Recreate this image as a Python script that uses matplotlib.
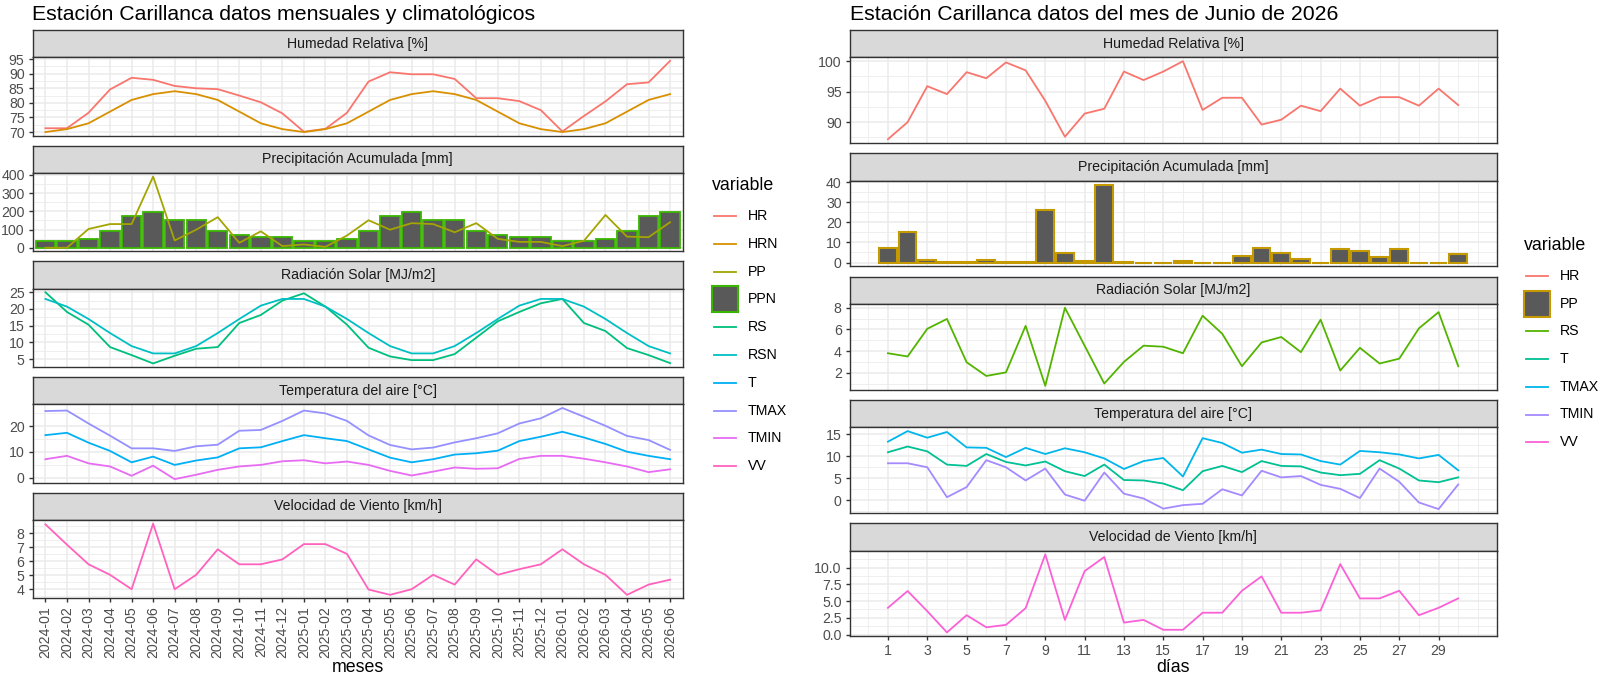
import matplotlib
matplotlib.use("Agg")
import matplotlib.pyplot as plt
from matplotlib.patches import Rectangle
from matplotlib.ticker import MultipleLocator, FixedLocator

plt.rcParams['font.family'] = ['Liberation Sans', 'DejaVu Sans']

# ---- datos mensuales (2024-01 .. 2026-06) ----
meses = ["2024-01", "2024-02", "2024-03", "2024-04", "2024-05", "2024-06",
         "2024-07", "2024-08", "2024-09", "2024-10", "2024-11", "2024-12",
         "2025-01", "2025-02", "2025-03", "2025-04", "2025-05", "2025-06",
         "2025-07", "2025-08", "2025-09", "2025-10", "2025-11", "2025-12",
         "2026-01", "2026-02", "2026-03", "2026-04", "2026-05", "2026-06"]

hr = [71.3, 71.3, 76.6, 84.6, 88.6, 87.9, 85.8, 85.0, 84.7, 82.5, 80.2, 76.4,
      70.1, 71.1, 76.6, 87.3, 90.5, 89.8, 89.8, 88.2, 81.6, 81.6, 80.6, 77.5,
      70.2, 75.5, 80.5, 86.4, 87.0, 94.4]
hrn = [70, 71, 73, 77, 81, 83, 84, 83, 81, 77, 73, 71,
       70, 71, 73, 77, 81, 83, 84, 83, 81, 77, 73, 71,
       70, 71, 73, 77, 81, 83]
pp = [0, 0, 103, 130, 130, 391, 40, 99, 168, 27, 90, 9,
      18, 5, 67, 151, 99, 135, 130, 85, 135, 49, 32, 32,
      9, 38, 180, 61, 58, 140]
ppn = [36, 36, 47, 94, 175, 198, 150, 150, 94, 68, 58, 58,
       36, 36, 47, 94, 175, 198, 150, 150, 94, 68, 58, 58,
       36, 36, 47, 94, 175, 198]
rs = [25.0, 19.1, 15.3, 8.6, 6.2, 3.7, 6.0, 8.1, 8.6, 15.8, 18.2, 22.5,
      24.7, 20.7, 15.3, 8.4, 5.8, 4.7, 4.7, 6.5, 11.4, 16.3, 19.1, 21.7,
      23.0, 15.8, 13.4, 8.3, 6.2, 3.8]
rsn = [23.0, 20.7, 17.0, 12.8, 8.9, 6.7, 6.7, 8.9, 12.8, 17.0, 21.0, 23.0,
       23.0, 20.7, 17.0, 12.8, 8.9, 6.7, 6.7, 8.9, 12.8, 17.0, 21.0, 23.0,
       23.0, 20.7, 17.0, 12.8, 8.9, 6.7]
tmax = [25.8, 26.0, 21.0, 16.3, 11.4, 11.4, 10.4, 12.2, 12.8, 18.2, 18.5, 22.0,
        26.0, 24.9, 22.0, 16.4, 12.7, 11.0, 11.7, 13.7, 15.3, 17.2, 21.0, 23.0,
        27.0, 23.6, 20.1, 16.2, 14.6, 10.8]
t = [16.5, 17.4, 13.6, 10.4, 6.0, 8.2, 5.0, 6.7, 7.9, 11.4, 11.8, 14.2,
     16.5, 15.3, 14.2, 11.0, 7.8, 6.0, 7.2, 9.0, 9.5, 10.5, 14.2, 15.9,
     17.8, 15.6, 13.1, 10.1, 8.5, 7.2]
tmin = [7.2, 8.5, 5.6, 4.4, 0.8, 4.7, -0.5, 1.2, 3.1, 4.4, 5.0, 6.4,
        6.8, 5.6, 6.3, 5.0, 2.7, 0.9, 2.4, 4.0, 3.5, 3.7, 7.3, 8.5,
        8.5, 7.4, 6.0, 4.4, 2.2, 3.3]
vv = [8.63, 7.18, 5.78, 5.03, 4.0, 8.68, 4.0, 5.03, 6.85, 5.78, 5.78, 6.13,
      7.22, 7.22, 6.52, 3.98, 3.6, 4.0, 5.03, 4.33, 6.13, 5.03, 5.43, 5.78,
      6.85, 5.78, 5.03, 3.6, 4.33, 4.68]

# ---- datos diarios junio 2026 ----
dias = list(range(1, 31))
hr_d = [87.2, 90.0, 95.9, 94.6, 98.2, 97.2, 99.8, 98.5, 93.5, 87.6,
        91.4, 92.2, 98.3, 96.9, 98.3, 100.0, 92.0, 94.0, 94.0, 89.6,
        90.4, 92.7, 91.8, 95.5, 92.7, 94.1, 94.1, 92.7, 95.5, 92.8]
pp_d = [7.1, 15.0, 1.3, 0.3, 0.2, 1.3, 0.2, 0.3, 26.3, 4.8,
        0.5, 38.8, 0.3, 0.0, 0.0, 0.5, 0.0, 0.0, 3.3, 7.4,
        4.8, 1.8, 0.0, 6.6, 5.9, 2.5, 6.8, 0.0, 0.0, 4.3]
rs_d = [3.8, 3.5, 6.06, 6.97, 2.97, 1.7, 2.03, 6.33, 0.79, 8.0,
        4.5, 1.0, 3.0, 4.5, 4.4, 3.8, 7.27, 5.6, 2.6, 4.8,
        5.3, 3.9, 6.9, 2.2, 4.3, 2.85, 3.3, 6.1, 7.6, 2.6]
tmax_d = [13.3, 15.7, 14.2, 15.5, 12.0, 11.9, 9.8, 11.9, 10.5, 11.8,
          10.9, 9.5, 7.1, 8.9, 9.6, 5.4, 14.1, 13.0, 10.8, 11.5,
          10.5, 10.4, 8.9, 8.1, 11.2, 10.9, 10.4, 9.5, 10.3, 6.8]
t_d = [10.9, 12.2, 11.1, 8.1, 7.8, 10.5, 8.7, 7.9, 8.8, 6.6,
       5.5, 8.1, 4.6, 4.5, 3.8, 2.3, 6.6, 7.8, 6.4, 8.9,
       7.8, 7.7, 6.3, 5.7, 6.0, 9.1, 7.2, 4.5, 4.1, 5.2]
tmin_d = [8.4, 8.4, 7.5, 0.7, 3.0, 9.1, 7.5, 4.5, 7.2, 1.3,
          -0.1, 6.3, 1.5, 0.4, -1.9, -1.1, -0.8, 2.5, 1.1, 6.7,
          5.2, 5.5, 3.5, 2.6, 0.5, 7.2, 4.2, -0.5, -2.0, 3.6]
vv_d = [4.0, 6.5, 3.5, 0.34, 2.9, 1.1, 1.46, 3.95, 11.95, 2.2,
        9.46, 11.56, 1.8, 2.2, 0.73, 0.73, 3.27, 3.27, 6.54, 8.68,
        3.27, 3.27, 3.6, 10.5, 5.4, 5.4, 6.54, 2.9, 4.0, 5.4]

# colores ggplot (hue_pal)
col_m = {'HR': '#F8766D', 'HRN': '#D89000', 'PP': '#A3A500', 'PPN': '#39B600',
         'RS': '#00BF7D', 'RSN': '#00BFC4', 'T': '#00B0F6', 'TMAX': '#9590FF',
         'TMIN': '#E76BF3', 'VV': '#FF62BC'}
col_d = {'HR': '#F8766D', 'PP': '#C49A00', 'RS': '#53B400', 'T': '#00C094',
         'TMAX': '#00B6EB', 'TMIN': '#A58AFF', 'VV': '#FB61D7'}

W, H = 1600, 676
fig = plt.figure(figsize=(16, 6.76), dpi=100)
GRID = '#EBEBEB'
BORDER = '#333333'
LW = 1.3


def box(x0, y0, x1, y1):
    return [x0 / W, 1 - y1 / H, (x1 - x0) / W, (y1 - y0) / H]


def facet(x0, x1, top, strip_h, panel_h, title):
    s = fig.add_axes(box(x0, top, x1, top + strip_h))
    s.set_facecolor('#D9D9D9')
    s.set_xticks([])
    s.set_yticks([])
    for sp in s.spines.values():
        sp.set_color(BORDER)
        sp.set_linewidth(1.0)
    s.text(0.5, 0.5, title, ha='center', va='center', fontsize=10.2,
           color='#1A1A1A', transform=s.transAxes)
    ax = fig.add_axes(box(x0, top + strip_h, x1, top + strip_h + panel_h))
    for sp in ax.spines.values():
        sp.set_color(BORDER)
        sp.set_linewidth(1.0)
    ax.set_axisbelow(True)
    ax.tick_params(colors=BORDER, labelcolor='#4D4D4D', labelsize=10.2,
                   length=3.2, width=1.0, pad=2.5)
    ax.tick_params(which='minor', length=0)
    ax.grid(which='major', color=GRID, lw=1.1)
    ax.grid(which='minor', color=GRID, lw=0.55)
    return ax


def set_y(ax, series, ticks):
    lo = min(min(s) for s in series)
    hi = max(max(s) for s in series)
    pad = (hi - lo) * 0.05
    ax.set_ylim(lo - pad, hi + pad)
    ax.set_yticks(ticks)
    ax.yaxis.set_minor_locator(MultipleLocator((ticks[1] - ticks[0]) / 2))


titles = ["Humedad Relativa [%]", "Precipitación Acumulada [mm]",
          "Radiación Solar [MJ/m2]", "Temperatura del aire [°C]",
          "Velocidad de Viento [km/h]"]

# ---------- izquierda: mensual ----------
xm = list(range(1, len(meses) + 1))
L0, L1 = 32.5, 683
axes_m = [facet(L0, L1, 30 + i * 115.7, 27.3, 78.3, titles[i]) for i in range(5)]
a = axes_m
a[0].plot(xm, hr, color=col_m['HR'], lw=LW)
a[0].plot(xm, hrn, color=col_m['HRN'], lw=LW)
set_y(a[0], [hr, hrn], [70, 75, 80, 85, 90, 95])
a[1].bar(xm, ppn, width=0.9, color='#595959', edgecolor=col_m['PPN'], lw=1.3)
a[1].plot(xm, pp, color=col_m['PP'], lw=LW)
set_y(a[1], [pp, ppn, [0]], [0, 100, 200, 300, 400])
a[2].plot(xm, rs, color=col_m['RS'], lw=LW)
a[2].plot(xm, rsn, color=col_m['RSN'], lw=LW)
set_y(a[2], [rs, rsn], [5, 10, 15, 20, 25])
a[3].plot(xm, t, color=col_m['T'], lw=LW)
a[3].plot(xm, tmax, color=col_m['TMAX'], lw=LW)
a[3].plot(xm, tmin, color=col_m['TMIN'], lw=LW)
set_y(a[3], [t, tmax, tmin], [0, 10, 20])
a[4].plot(xm, vv, color=col_m['VV'], lw=LW)
set_y(a[4], [vv], [4, 5, 6, 7, 8])
for i, ax in enumerate(a):
    ax.set_xlim(0.4, len(meses) + 0.6)
    ax.set_xticks(xm)
    if i < 4:
        ax.tick_params(axis='x', length=0, labelbottom=False)
    else:
        ax.set_xticklabels(meses, rotation=90)

# ---------- derecha: diario ----------
R0, R1 = 849.6, 1496.6
axes_d = [facet(R0, R1, 30 + i * 123.3, 27.3, 85.8, titles[i]) for i in range(5)]
b = axes_d
b[0].plot(dias, hr_d, color=col_d['HR'], lw=LW)
set_y(b[0], [hr_d], [90, 95, 100])
b[1].bar(dias, pp_d, width=0.9, color='#595959', edgecolor=col_d['PP'], lw=1.5)
set_y(b[1], [pp_d], [0, 10, 20, 30, 40])
b[2].plot(dias, rs_d, color=col_d['RS'], lw=LW)
set_y(b[2], [rs_d], [2, 4, 6, 8])
b[3].plot(dias, t_d, color=col_d['T'], lw=LW)
b[3].plot(dias, tmax_d, color=col_d['TMAX'], lw=LW)
b[3].plot(dias, tmin_d, color=col_d['TMIN'], lw=LW)
set_y(b[3], [t_d, tmax_d, tmin_d], [0, 5, 10, 15])
b[4].plot(dias, vv_d, color=col_d['VV'], lw=LW)
set_y(b[4], [vv_d], [0, 2.5, 5, 7.5, 10])
b[4].set_yticklabels(['0.0', '2.5', '5.0', '7.5', '10.0'])
for i, ax in enumerate(b):
    ax.set_xlim(-0.95, 31.95)
    ax.set_xticks(list(range(1, 30, 2)))
    ax.xaxis.set_minor_locator(FixedLocator(list(range(0, 31, 2)) + [31]))
    if i < 4:
        ax.tick_params(axis='x', length=0, labelbottom=False)

# ---------- textos y leyendas ----------
ov = fig.add_axes([0, 0, 1, 1])
ov.set_xlim(0, W)
ov.set_ylim(H, 0)
ov.axis('off')
ov.patch.set_visible(False)

ov.text(L0, 20, "Estación Carillanca datos mensuales y climatológicos",
        fontsize=15.3, ha='left', va='baseline', color='black')
ov.text(R0, 20, "Estación Carillanca datos del mes de Junio de 2026",
        fontsize=15.3, ha='left', va='baseline', color='black')
ov.text((L0 + L1) / 2, 672, "meses", fontsize=12.75, ha='center', va='baseline')
ov.text((R0 + R1) / 2, 672, "días", fontsize=12.75, ha='center', va='baseline')


def legend(x, y_title, y0, step, names, cols, box_name, box_edge):
    ov.text(x, y_title, "variable", fontsize=12.75, ha='left', va='center')
    for k, name in enumerate(names):
        y = y0 + k * step
        if name == box_name:
            ov.add_patch(Rectangle((x, y - 13), 26, 26, facecolor='#595959',
                                   edgecolor=box_edge, lw=1.5))
        else:
            ov.plot([x + 2, x + 24], [y, y], color=cols[name], lw=LW)
        ov.text(x + 36, y, name, fontsize=10.2, ha='left', va='center')


legend(712, 185, 216, 27.8, list(col_m.keys()), col_m, 'PPN', col_m['PPN'])
legend(1524, 245, 276, 27.7, list(col_d.keys()), col_d, 'PP', col_d['PP'])

fig.savefig("out.png", dpi=100)
